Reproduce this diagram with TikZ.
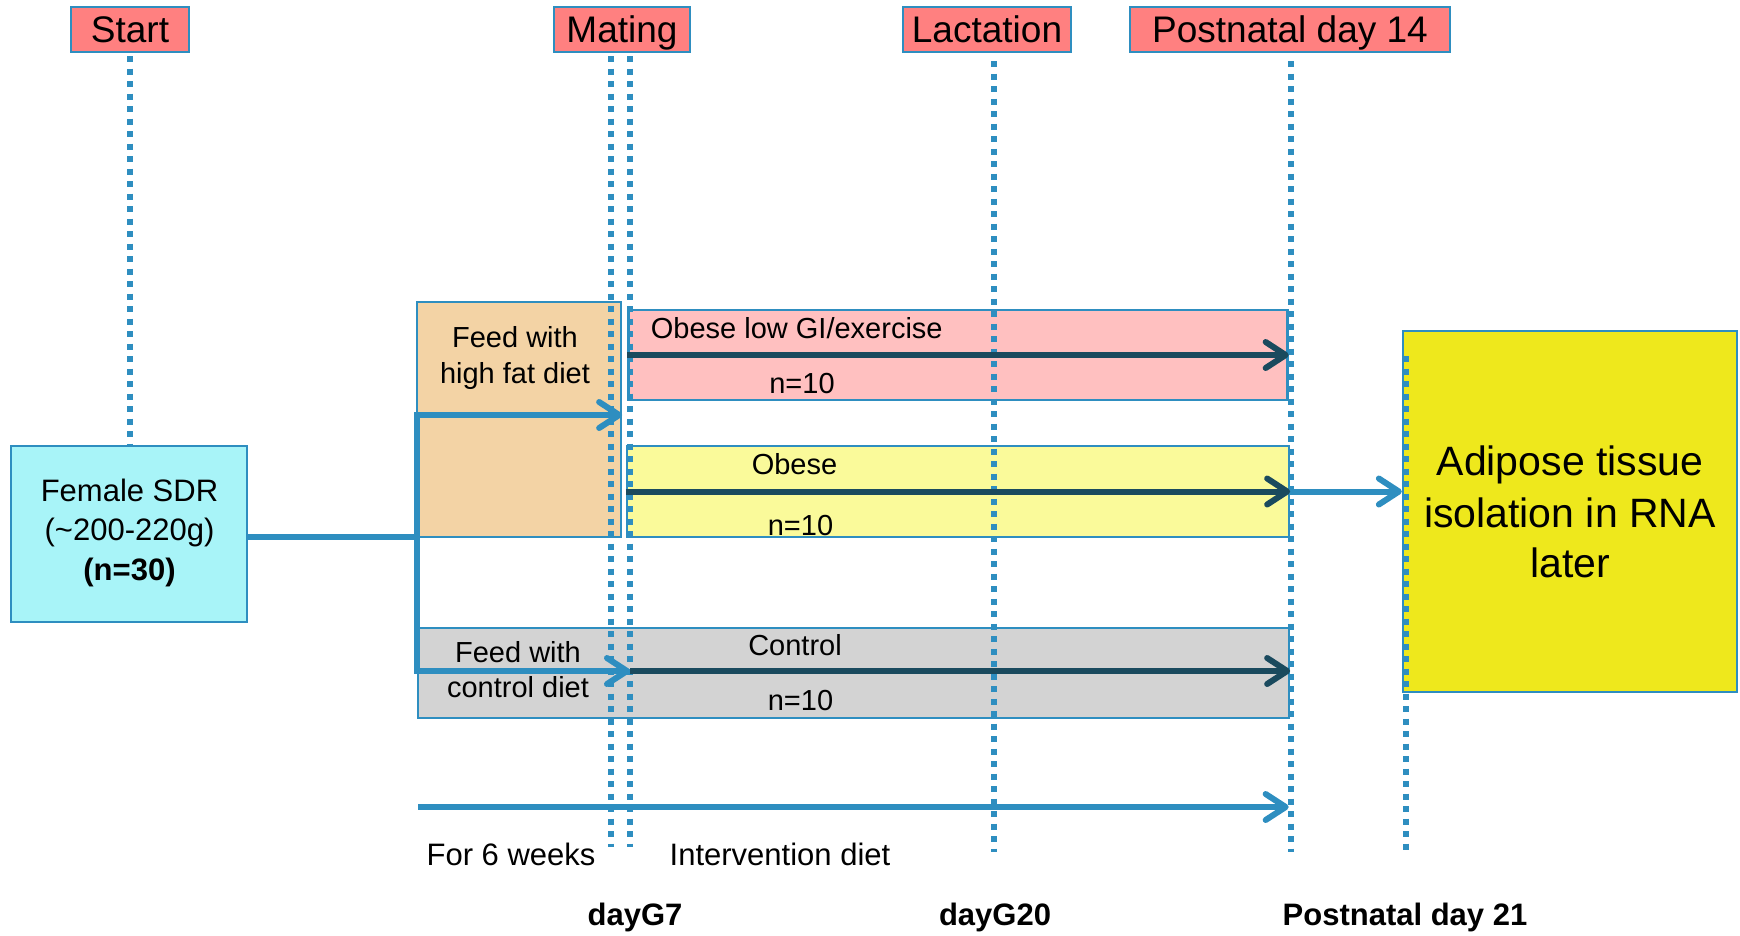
\documentclass[tikz,border=0pt]{standalone}
\usepackage{fontspec}
\setmainfont{Liberation Sans}
\usetikzlibrary{arrows.meta}
\definecolor{lineblue}{RGB}{46,142,192}
\definecolor{darkarr}{RGB}{26,74,94}
\definecolor{hdrred}{RGB}{255,128,128}
\definecolor{tanc}{RGB}{243,211,165}
\definecolor{pinkc}{RGB}{255,192,192}
\definecolor{yelc}{RGB}{250,250,154}
\definecolor{greyc}{RGB}{211,211,211}
\definecolor{adipc}{RGB}{238,232,28}
\definecolor{cyanc}{RGB}{168,244,248}
\begin{document}
\begin{tikzpicture}[x=1pt,y=-1pt,
  box/.style={draw=lineblue, line width=2.3pt, inner sep=0pt},
  hdr/.style={box, fill=hdrred, font=\fontsize{37}{40}\selectfont, text height=26.6pt, text depth=0pt, minimum height=45pt},
  txt/.style={inner sep=0pt, anchor=base, font=\fontsize{29}{34}\selectfont},
  btxt/.style={inner sep=0pt, anchor=base, font=\fontsize{31}{36}\selectfont},
  bigtxt/.style={inner sep=0pt, anchor=base, font=\fontsize{41}{46}\selectfont},
  dotl/.style={draw=lineblue, line width=5.5pt, dash pattern=on 6pt off 6.5pt},
  tipb/.style={-{Straight Barb[length=20pt,width=26pt,line cap=round,line join=round]}},
  conn/.style={draw=lineblue, line width=6pt, line join=miter},
  darrow/.style={draw=darkarr, line width=6pt, tipb}
]
\useasboundingbox (0,0) rectangle (1740,935);

% header boxes
\node[hdr, minimum width=118pt] (start) at (130,29.5) {Start};
\node[hdr, minimum width=136pt] (mating) at (622,29.5) {Mating};
\node[hdr, minimum width=168pt] (lact) at (987,29.5) {Lactation};
\node[hdr, minimum width=320pt] (pd14) at (1290,29.5) {Postnatal day 14};

% phase boxes
\node[box, fill=tanc, minimum width=204pt, minimum height=235pt] (hf) at (519,419.5) {};
\node[box, fill=pinkc, minimum width=659pt, minimum height=90pt] (pink) at (958,355) {};
\node[box, fill=yelc, minimum width=662pt, minimum height=91pt] (yel) at (958,491.5) {};
\node[box, fill=greyc, minimum width=871pt, minimum height=90pt] (grey) at (853.5,673) {};
\node[box, fill=adipc, minimum width=334pt, minimum height=361pt] (adip) at (1570,511.5) {};
\node[box, fill=cyanc, minimum width=236pt, minimum height=176pt] (female) at (129,534) {};

% coordinates
\coordinate (m1b) at (611,847);
\coordinate (m2b) at (630,847);
\coordinate (lb) at (994,852);
\coordinate (pb) at (1291,852);
\coordinate (p21t) at (1406,356);
\coordinate (p21b) at (1406,854);
\coordinate (jT) at (417,415);
\coordinate (jM) at (417,537);
\coordinate (jB) at (417,671);
\coordinate (bl) at (418,807);

% dotted time lines
\draw[dotl] ([yshift=-3pt]start.south) -- (start.south |- female.north);
\draw[dotl] ([yshift=-3pt]m1b |- mating.south) -- (m1b);
\draw[dotl] ([yshift=-3pt]m2b |- mating.south) -- (m2b);
\draw[dotl] ([yshift=-8pt]lb |- lact.south) -- (lb);
\draw[dotl] ([yshift=-8pt]pb |- pd14.south) -- (pb);
\draw[dotl] (p21t) -- (p21b);

% blue connectors
\draw[conn] (female.east |- jM) -- (jM);
\draw[conn, tipb] (jB) |- (hf.east |- jT);
\draw[conn, tipb] (jT) |- (m2b |- jB);
\draw[conn, tipb] (yel.east) -- (yel.east -| adip.west);
\draw[conn, tipb] (bl) -- (bl -| pink.east);

% dark arrows
\draw[darrow] (pink.west) -- (pink.east);
\draw[darrow] (yel.west) -- (yel.east);
\draw[darrow] (m2b |- jB) -- (grey.east |- jB);

% texts
\node[txt] (hf1) at (515,347) {Feed with};
\node[txt] (hf2) at (515,383) {high fat diet};
\node[txt, anchor=base west] (pk1) at (650.7,338) {Obese low GI/exercise};
\node[txt] (pk2) at (802,393) {n=10};
\node[txt] (ye1) at (794.5,474) {Obese};
\node[txt] (ye2) at (800.5,535) {n=10};
\node[txt] (gr1) at (795,655) {Control};
\node[txt] (gr2) at (800.5,710) {n=10};
\node[txt] (cd1) at (518,662.7) {Feed with};
\node[txt] (cd2) at (518,697) {control diet};
\node[btxt] (w6) at (511,865) {For 6 weeks};
\node[btxt] (iv) at (780,865) {Intervention diet};
\node[btxt, font=\fontsize{31}{36}\selectfont\bfseries] (d7) at (635,925) {dayG7};
\node[btxt, font=\fontsize{31}{36}\selectfont\bfseries] (d20) at (995,925) {dayG20};
\node[btxt, font=\fontsize{31}{36}\selectfont\bfseries] (d21) at (1405,925) {Postnatal day 21};
\node[btxt] (f1) at (129.5,501.7) {Female SDR};
\node[btxt] (f2) at (129.5,540) {(\char"7E 200-220g)};
\node[btxt, font=\fontsize{31}{36}\selectfont\bfseries] (f3) at (129.5,580) {(n=30)};
\node[bigtxt] (a1) at (1570,475.7) {Adipose tissue};
\node[bigtxt] (a2) at (1570,527.5) {isolation in RNA};
\node[bigtxt] (a3) at (1570,577.5) {later};
\end{tikzpicture}
\end{document}
